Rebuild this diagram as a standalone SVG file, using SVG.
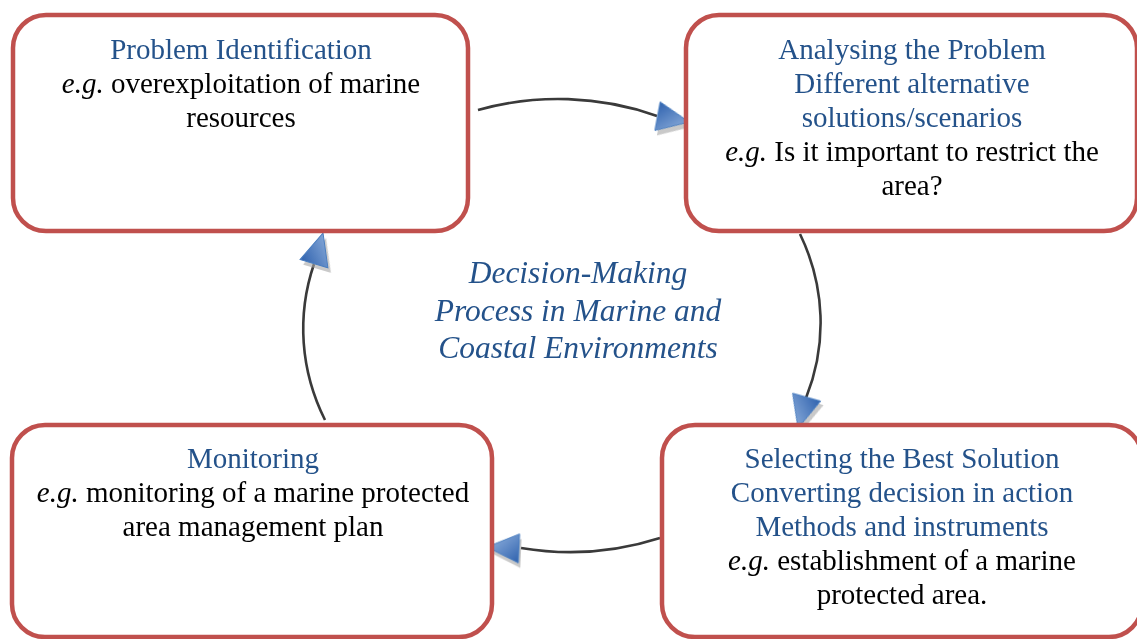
<svg xmlns="http://www.w3.org/2000/svg" width="1137" height="639" viewBox="0 0 1137 639">
<style>
.box{fill:#fff;stroke:#C0504D;stroke-width:4.5}
.t{font-family:"Liberation Serif","Times New Roman",serif;font-size:29px;text-anchor:middle;fill:#000}
.b{fill:#24528A}
.i{font-style:italic}
.c{font-family:"Liberation Serif","Times New Roman",serif;font-size:31.5px;font-style:italic;text-anchor:middle;fill:#24528A}
.arc{fill:none;stroke:#3A3A3A;stroke-width:2.6}
</style>
<defs>
<linearGradient id="g" x1="0" y1="0" x2="1" y2="1">
<stop offset="0" stop-color="#2F62AE"/>
<stop offset="1" stop-color="#9DBBE3"/>
</linearGradient>
<polygon id="ah" points="0,0 -32,-14.5 -32,14.5"/>
</defs>
<rect width="1137" height="639" fill="#fff"/>
<g id="connectors">
<path class="arc" d="M478,110 A261,228 0 0 1 657,116"/>
<path class="arc" d="M800,234 A261,228 0 0 1 806,398"/>
<path class="arc" d="M660,538 A261,228 0 0 1 521,548"/>
<path class="arc" d="M325,420 A261,228 0 0 1 314,264"/>
<g fill="#A6A6A6" opacity="0.6">
<use href="#ah" transform="translate(691,127) rotate(10.5)"/>
<use href="#ah" transform="translate(801,432) rotate(105.6)"/>
<use href="#ah" transform="translate(489,552) rotate(182.6)"/>
<use href="#ah" transform="translate(326,238) rotate(-73.6)"/>
</g>
<g fill="url(#g)" stroke="#4A7EC0" stroke-width="1">
<use href="#ah" transform="translate(689,122) rotate(10.5)"/>
<use href="#ah" transform="translate(798,428) rotate(105.6)"/>
<use href="#ah" transform="translate(487,547) rotate(182.6)"/>
<use href="#ah" transform="translate(323,233) rotate(-73.6)"/>
</g>
</g>
<g id="node-problem">
<rect class="box" x="13" y="15" width="455" height="216" rx="33"/>
<text class="t b" x="241" y="59">Problem Identification</text>
<text class="t" x="241" y="93"><tspan class="i">e.g.</tspan> overexploitation of marine</text>
<text class="t" x="241" y="127">resources</text>
</g>
<g id="node-analysing">
<rect class="box" x="686" y="15" width="451" height="216" rx="33"/>
<text class="t b" x="912" y="59">Analysing the Problem</text>
<text class="t b" x="912" y="93">Different alternative</text>
<text class="t b" x="912" y="127">solutions/scenarios</text>
<text class="t" x="912" y="161"><tspan class="i">e.g.</tspan> Is it important to restrict the</text>
<text class="t" x="912" y="195">area?</text>
</g>
<g id="node-selecting">
<rect class="box" x="662" y="425" width="480" height="212" rx="33"/>
<text class="t b" x="902" y="468">Selecting the Best Solution</text>
<text class="t b" x="902" y="502">Converting decision in action</text>
<text class="t b" x="902" y="536">Methods and instruments</text>
<text class="t" x="902" y="570"><tspan class="i">e.g.</tspan> establishment of a marine</text>
<text class="t" x="902" y="604">protected area.</text>
</g>
<g id="node-monitoring">
<rect class="box" x="12" y="425" width="480" height="212" rx="33"/>
<text class="t b" x="253" y="468">Monitoring</text>
<text class="t" x="253" y="502"><tspan class="i">e.g.</tspan> monitoring of a marine protected</text>
<text class="t" x="253" y="536">area management plan</text>
</g>
<g id="center-label">
<text class="c" x="578" y="283">Decision-Making</text>
<text class="c" x="578" y="321">Process in Marine and</text>
<text class="c" x="578" y="358">Coastal Environments</text>
</g>
</svg>
